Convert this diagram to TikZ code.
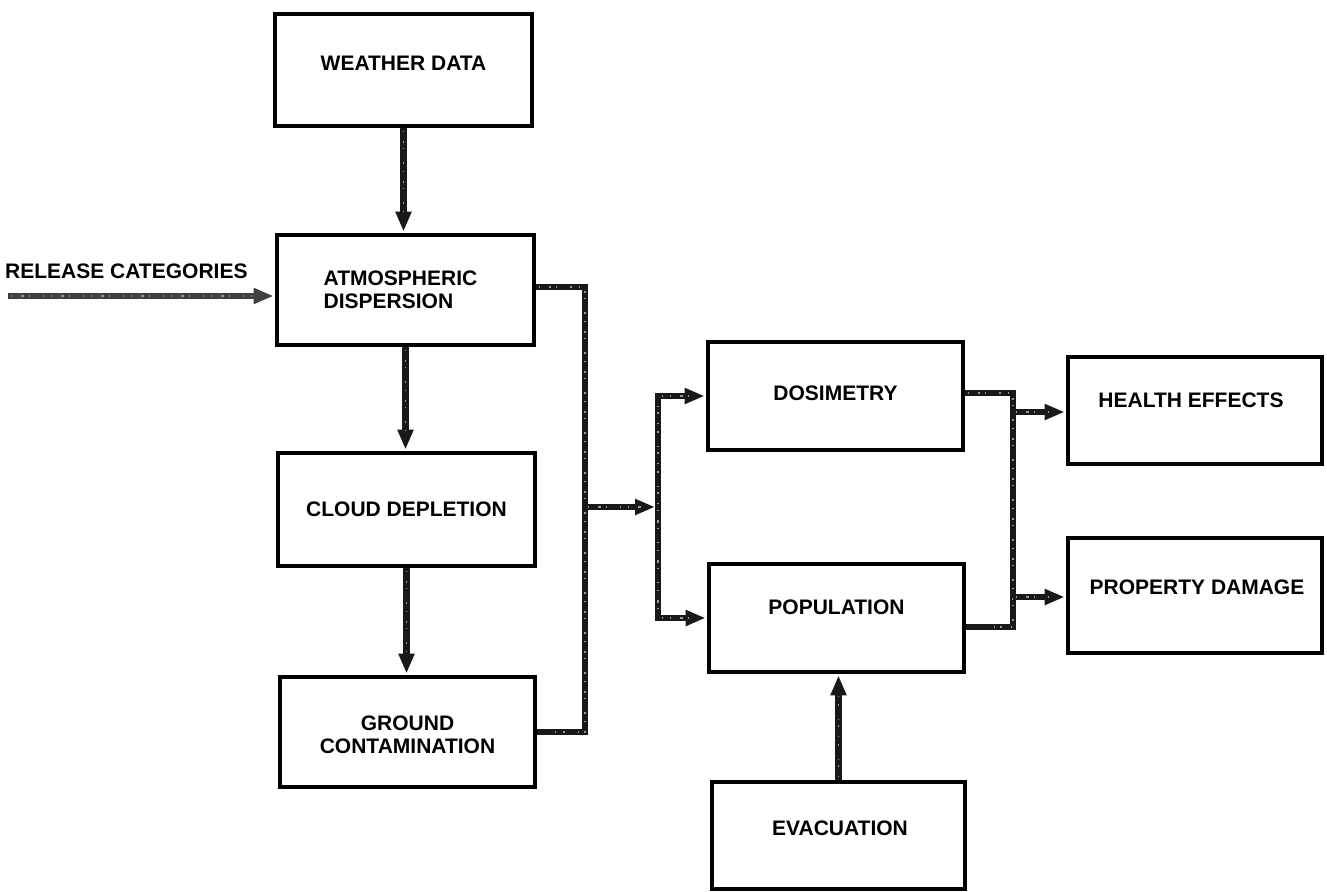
\documentclass[tikz,border=0pt]{standalone}
\usepackage{fontspec}
\setmainfont{Liberation Sans}
\usetikzlibrary{arrows.meta}
\begin{document}
\begin{tikzpicture}[x=1pt,y=-1pt,
  box/.style={draw=black, line width=3.4pt, rectangle, inner sep=0pt},
  lbl/.style={font=\fontsize{21}{22.5}\selectfont\bfseries, inner sep=0pt, align=center},
  speck/.style={postaction={draw=black!40, line width=1.2pt, dash pattern=on 1pt off 9pt on 2.5pt off 5pt on 1pt off 13pt on 1.5pt off 7pt, -, shorten >=16pt, shorten <=3pt}},
  flow/.style={draw=black!90, line width=6.5pt},
  arr/.style={flow, -{Triangle[length=20pt,width=15pt]}, shorten >=1.7pt},
]
\useasboundingbox[fill=white] (0,0) rectangle (1327,891);

% boxes
\node[box, minimum width=257pt, minimum height=112pt] (wd) at (403.5,70) {};
\node[box, minimum width=257pt, minimum height=110pt] (atm) at (405.5,290) {};
\node[box, minimum width=257pt, minimum height=113pt] (cloud) at (406.5,509.5) {};
\node[box, minimum width=255pt, minimum height=110pt] (ground) at (407.5,732) {};
\node[box, minimum width=255pt, minimum height=108pt] (dos) at (835.5,396) {};
\node[box, minimum width=255pt, minimum height=108pt] (pop) at (836.5,618) {};
\node[box, minimum width=254pt, minimum height=107pt] (health) at (1195,410.5) {};
\node[box, minimum width=254pt, minimum height=115pt] (prop) at (1195,595.5) {};
\node[box, minimum width=253pt, minimum height=107pt] (evac) at (838.5,835.5) {};

% texts
\node[lbl, yshift=7pt] (wdt) at (wd) {WEATHER DATA};
\node[lbl, align=left, xshift=-5pt] (atmt) at (atm) {ATMOSPHERIC\\DISPERSION};
\node[lbl] (cloudt) at (cloud) {CLOUD DEPLETION};
\node[lbl, yshift=-3pt] (groundt) at (ground) {GROUND\\CONTAMINATION};
\node[lbl, yshift=3pt] (dost) at (dos) {DOSIMETRY};
\node[lbl, yshift=11pt] (popt) at (pop) {POPULATION};
\node[lbl, xshift=-4pt, yshift=10pt] (healtht) at (health) {HEALTH EFFECTS};
\node[lbl, xshift=2pt, yshift=8pt] (propt) at (prop) {PROPERTY DAMAGE};
\node[lbl, xshift=1.5pt, yshift=7.5pt] (evact) at (evac) {EVACUATION};
\node[lbl, anchor=west] (rct) at (5,271) {RELEASE CATEGORIES};

% vertical chain
\draw[arr, speck] (wd.south) -- (wd.south |- atm.north);
\draw[arr, speck] (atm.south) -- (atm.south |- cloud.north);
\draw[arr, speck] (cloud.south) -- (cloud.south |- ground.north);

% release categories
\coordinate (rcs) at (8,296);
\draw[arr, draw=black!75, speck] (rcs) -- (rcs -| atm.west);

% first bus
\coordinate (b1t) at (585,287);
\coordinate (b1b) at (585,732);
\coordinate (j1) at (585,507);
\coordinate (b2m) at (658,507);
\draw[flow, speck] (atm.east |- b1t) -- (b1t) -- (b1b) -- (ground.east |- b1b);
\draw[arr, speck, shorten >=3pt] (j1) -- (b2m);

% second bus
\draw[arr, speck] (b2m) |- (dos.west);
\draw[arr, speck] (b2m) |- (pop.west);

% third bus
\coordinate (b3t) at (1013,393);
\coordinate (b3b) at (1013,627);
\coordinate (h1) at (1013,412);
\coordinate (p1) at (1013,597);
\draw[flow, speck] (dos.east |- b3t) -- (b3t) -- (b3b) -- (pop.east |- b3b);
\draw[arr, speck] (h1) -- (h1 -| health.west);
\draw[arr, speck] (p1) -- (p1 -| prop.west);

% evacuation
\draw[arr, speck] (evac.north) -- (evac.north |- pop.south);
\end{tikzpicture}
\end{document}
